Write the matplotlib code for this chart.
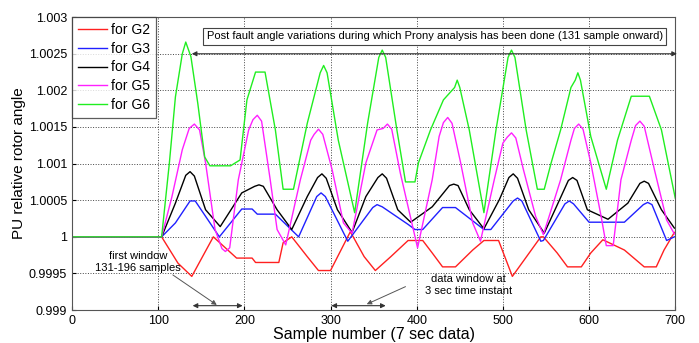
import matplotlib
matplotlib.use("Agg")
import matplotlib.pyplot as plt

plt.rcParams['font.family'] = ['Liberation Sans', 'DejaVu Sans']

# key points (sample number, PU angle)
g2_x = [0, 104, 123, 139, 164, 191, 209, 213, 240, 245, 255, 273, 286, 300, 323, 339, 352, 370, 390, 407,
        418, 430, 445, 465, 478, 495, 511, 544, 547, 563, 575, 591, 602, 616, 641, 664, 678, 687, 699]
g2_y = [1.0, 1.0, 0.99964, 0.99946, 1.0, 0.99971, 0.99971, 0.99965, 0.99965, 0.99992, 1.0, 0.99973, 0.99954,
        0.99954, 1.00007, 0.99973, 0.99954, 0.99973, 0.99995, 0.99995, 0.99978, 0.99959, 0.99959, 0.99982,
        0.99995, 0.99995, 0.99946, 1.0, 1.0, 0.99978, 0.99959, 0.99959, 0.99978, 0.99996, 0.99982, 0.99959,
        0.99959, 0.99982, 1.00006]

g3_x = [0, 104, 120, 137, 143, 171, 197, 209, 215, 236, 263, 284, 289, 294, 320, 349, 354, 360, 390, 398,
        407, 430, 445, 478, 486, 512, 517, 522, 544, 547, 572, 577, 582, 600, 641, 663, 668, 673, 690, 699]
g3_y = [1.0, 1.0, 1.00019, 1.00049, 1.00049, 1.0, 1.00038, 1.00038, 1.00031, 1.00031, 1.0, 1.00055, 1.0006,
        1.00055, 0.99994, 1.0004, 1.00044, 1.00041, 1.00017, 1.0001, 1.0001, 1.0004, 1.0004, 1.0001, 1.0001,
        1.00049, 1.00053, 1.00049, 0.99994, 0.99995, 1.00045, 1.00049, 1.00045, 1.0002, 1.0002, 1.00044,
        1.00047, 1.00044, 0.99995, 1.0]

g4_x = [0, 104, 120, 132, 137, 142, 155, 172, 197, 212, 217, 222, 238, 255, 273, 285, 290, 295, 308, 325,
        341, 355, 360, 365, 378, 393, 418, 438, 443, 448, 461, 478, 496, 507, 512, 517, 530, 548, 564, 576,
        581, 586, 598, 622, 645, 659, 664, 669, 684, 699]
g4_y = [1.0, 1.0, 1.00046, 1.00084, 1.00089, 1.00083, 1.00037, 1.00014, 1.0006, 1.00069, 1.00071, 1.00069,
        1.00037, 1.0001, 1.00055, 1.00081, 1.00086, 1.0008, 1.00037, 1.00006, 1.00055, 1.00081, 1.00086,
        1.0008, 1.00037, 1.0002, 1.00041, 1.0007, 1.00072, 1.0007, 1.00037, 1.00011, 1.00051, 1.00081,
        1.00086, 1.0008, 1.00037, 1.00005, 1.00046, 1.00077, 1.00081, 1.00077, 1.00037, 1.00024, 1.00046,
        1.00073, 1.00076, 1.00073, 1.00037, 1.00012]

g5_x = [0, 104, 116, 128, 136, 142, 148, 155, 166, 174, 178, 183, 193, 205, 210, 215, 220, 230, 238, 248,
        265, 277, 281, 286, 291, 302, 315, 325, 341, 354, 361, 366, 371, 381, 401, 418, 426, 431, 436, 441,
        451, 465, 474, 490, 500, 505, 510, 515, 524, 538, 547, 567, 579, 583, 588, 593, 602, 614, 620, 628,
        637, 649, 654, 659, 664, 676, 690, 699]
g5_y = [1.0, 1.0, 1.00055, 1.00119, 1.00148, 1.00154, 1.00146, 1.00101, 1.0001, 0.99984, 0.9998, 0.99985,
        1.00078, 1.00146, 1.0016, 1.00166, 1.00158, 1.00078, 1.0001, 0.99989, 1.00078, 1.00132, 1.0014,
        1.00147, 1.0014, 1.00091, 1.00019, 1.00005, 1.00101, 1.00146, 1.00148, 1.00154, 1.00147, 1.00087,
        0.99985, 1.00078, 1.00137, 1.00156, 1.00163, 1.00155, 1.00101, 1.00019, 0.99994, 1.00078, 1.00128,
        1.00136, 1.00142, 1.00135, 1.00091, 1.00028, 1.00003, 1.00078, 1.00132, 1.00148, 1.00154, 1.00147,
        1.00101, 1.00028, 0.99988, 0.99988, 1.00078, 1.00132, 1.00152, 1.00158, 1.00151, 1.00091, 1.00023,
        1.00004]

g6_x = [0, 104, 113, 120, 128, 132, 138, 146, 154, 160, 184, 195, 203, 213, 224, 236, 245, 257, 273, 288,
        292, 296, 309, 328, 343, 356, 360, 364, 377, 387, 398, 402, 416, 431, 444, 447, 450, 461, 478, 492,
        506, 510, 514, 527, 540, 548, 556, 567, 579, 584, 587, 590, 602, 620, 633, 649, 670, 684, 700]
g6_y = [1.0, 1.0, 1.00101, 1.00191, 1.0025, 1.00266, 1.00246, 1.00182, 1.00109, 1.00097, 1.00097, 1.00105,
        1.00187, 1.00225, 1.00225, 1.00146, 1.00065, 1.00065, 1.00155, 1.00224, 1.00234, 1.00224, 1.00132,
        1.00033, 1.00155, 1.00245, 1.00255, 1.00245, 1.00146, 1.00075, 1.00075, 1.00101, 1.00146, 1.00187,
        1.00204, 1.00214, 1.00204, 1.00146, 1.00033, 1.00146, 1.00245, 1.00255, 1.00245, 1.00146, 1.00065,
        1.00065, 1.00101, 1.00146, 1.00204, 1.00214, 1.00224, 1.00214, 1.00137, 1.00065, 1.00132, 1.00192,
        1.00192, 1.00146, 1.00053]

series = [("for G2", g2_x, g2_y, "#ff2020"),
          ("for G3", g3_x, g3_y, "#2020ff"),
          ("for G4", g4_x, g4_y, "#000000"),
          ("for G5", g5_x, g5_y, "#ff20ff"),
          ("for G6", g6_x, g6_y, "#20ee20")]

x_ticks = [0, 100, 200, 300, 400, 500, 600, 700]
y_ticks = [0.999, 0.9995, 1.0, 1.0005, 1.001, 1.0015, 1.002, 1.0025, 1.003]
y_tick_labels = ["0.999", "0.9995", "1", "1.0005", "1.001", "1.0015", "1.002", "1.0025", "1.003"]

fig = plt.figure(figsize=(6.99, 3.43), dpi=100)
ax = fig.add_axes([0.103, 0.096, 0.863, 0.854])

for label, xs, ys, col in series:
    ax.plot(xs, ys, color=col, lw=1.0, label=label)

ax.set_xlim(0, 700)
ax.set_ylim(0.999, 1.003)
ax.set_xticks(x_ticks)
ax.set_yticks(y_ticks)
ax.set_yticklabels(y_tick_labels)
ax.tick_params(labelsize=9, direction="in", length=3)
ax.grid(True, linestyle=":", color="#444444", lw=0.7)
ax.set_xlabel("Sample number (7 sec data)", fontsize=11.5, labelpad=0)
ax.set_ylabel("PU relative rotor angle", fontsize=11, labelpad=2)
for s in ax.spines.values():
    s.set_color("#555555")

leg = ax.legend(loc="upper left", fontsize=10, borderaxespad=0, fancybox=False,
                handlelength=2.1, handletextpad=0.3, labelspacing=0.35, borderpad=0.4)
leg.get_frame().set_edgecolor("#333333")
leg.get_frame().set_linewidth(0.9)

# post-fault annotation box + span arrow
ax.text(421, 1.00274, "Post fault angle variations during which Prony analysis has been done (131 sample onward)",
        fontsize=8, ha="center", va="center",
        bbox=dict(boxstyle="square,pad=0.3", fc="white", ec="#444444", lw=0.8))
ax.annotate("", xy=(139, 1.0025), xytext=(702, 1.0025),
            arrowprops=dict(arrowstyle="<|-|>", color="#333333", lw=0.8, mutation_scale=7,
                            shrinkA=0, shrinkB=0), annotation_clip=False)

# first window
ax.text(77, 0.99966, "first window\n131-196 samples", fontsize=8, ha="center", va="center",
        linespacing=1.3)
ax.annotate("", xy=(168, 0.99907), xytext=(117, 0.99948),
            arrowprops=dict(arrowstyle="-|>", color="#555555", lw=0.7, mutation_scale=7,
                            shrinkA=0, shrinkB=0))
ax.annotate("", xy=(140, 0.99906), xytext=(198, 0.99906),
            arrowprops=dict(arrowstyle="<|-|>", color="#333333", lw=0.8, mutation_scale=7,
                            shrinkA=0, shrinkB=0))

# data window at 3 sec
ax.text(460, 0.99934, "data window at\n3 sec time instant", fontsize=8, ha="center", va="center",
        linespacing=1.3)
ax.annotate("", xy=(342, 0.99908), xytext=(387, 0.99932),
            arrowprops=dict(arrowstyle="-|>", color="#555555", lw=0.7, mutation_scale=7,
                            shrinkA=0, shrinkB=0))
ax.annotate("", xy=(301, 0.99906), xytext=(364, 0.99906),
            arrowprops=dict(arrowstyle="<|-|>", color="#333333", lw=0.8, mutation_scale=7,
                            shrinkA=0, shrinkB=0))

fig.savefig("out.png", dpi=100)
